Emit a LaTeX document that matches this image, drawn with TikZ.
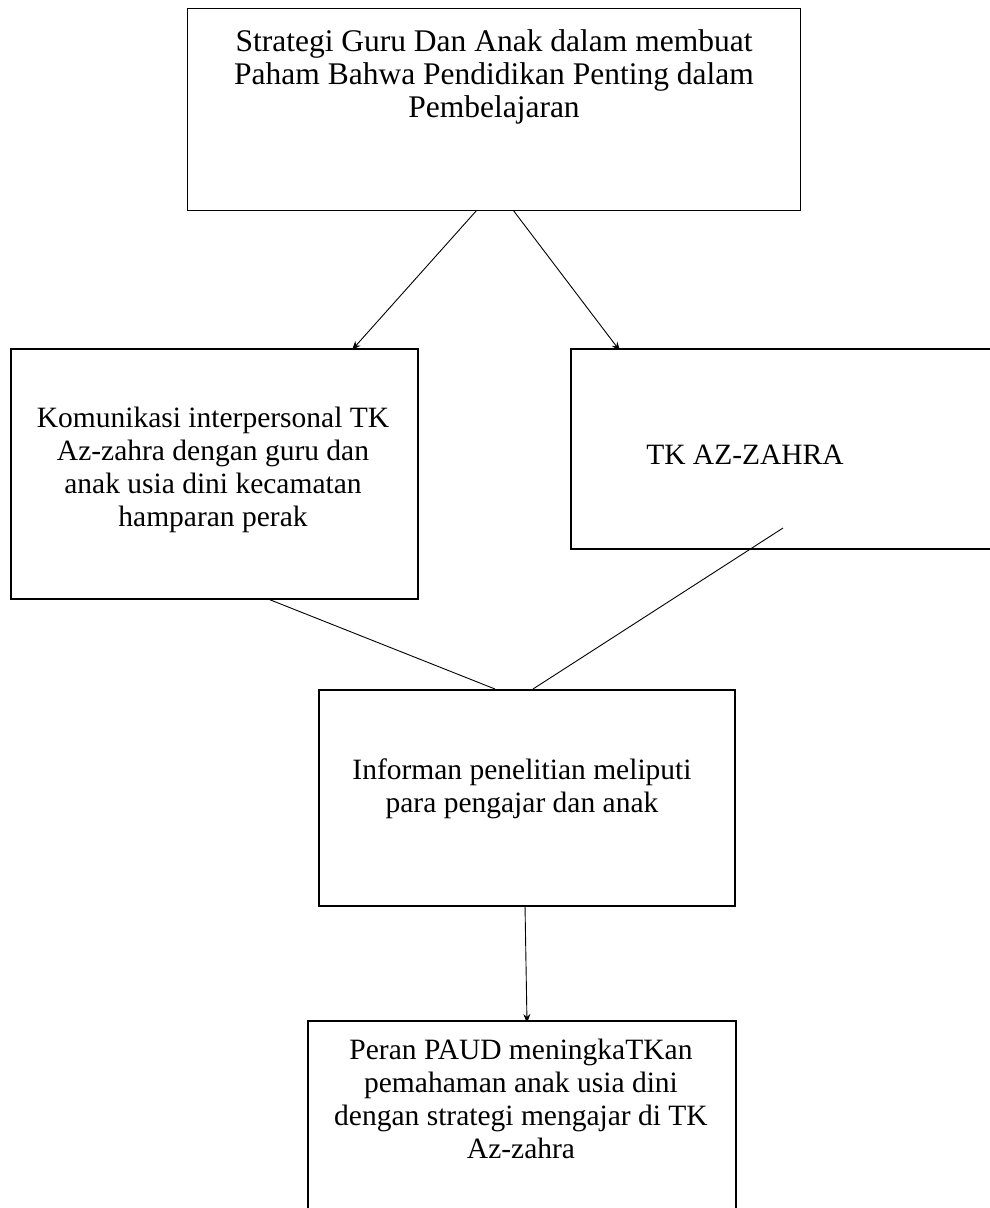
\documentclass[tikz,border=0pt]{standalone}
\usepackage{fontspec}
\setmainfont{Liberation Serif}
\usetikzlibrary{arrows.meta,backgrounds}
\begin{document}
\begin{tikzpicture}[x=1pt,y=-1pt,
  boxthin/.style={draw,line width=1.2pt,fill=white,anchor=north west,inner sep=0pt},
  boxthick/.style={draw,line width=2pt,fill=white,anchor=north west,inner sep=0pt},
  label/.style={align=center,font=\fontsize{29.5}{33}\selectfont,inner sep=0pt},
  toplabel/.style={align=center,font=\fontsize{31.5}{33}\selectfont,inner sep=0pt},
  conn/.style={line width=0.9pt},
  arr/.style={conn,-{Stealth[length=9pt,width=7pt]}}]
\useasboundingbox (0,0) rectangle (989,1208);
\node[boxthin,minimum width=613pt,minimum height=202pt] (top) at (187,8) {};
\node[boxthick,minimum width=407pt,minimum height=250pt] (left) at (10,348) {};
\node[boxthick,minimum width=440pt,minimum height=200pt] (right) at (570,348) {};
\node[boxthick,minimum width=416pt,minimum height=216pt] (mid) at (318,689) {};
\node[boxthick,minimum width=428pt,minimum height=210pt] (bot) at (307,1020) {};
\node[toplabel] (ttop) at (494,77) {Strategi Guru Dan Anak dalam membuat\\Paham Bahwa Pendidikan Penting dalam\\Pembelajaran};
\node[label] (tleft) at (213,470) {Komunikasi interpersonal TK\\Az-zahra dengan guru dan\\anak usia dini kecamatan\\hamparan perak};
\node[label] (tright) at (745,455) {TK AZ-ZAHRA};
\node[label] (tmid) at (522,789) {Informan penelitian meliputi\\para pengajar dan anak};
\node[label] (tbot) at (521,1099) {Peran PAUD meningkaTKan\\pemahaman anak usia dini\\dengan strategi mengajar di TK\\Az-zahra};
\coordinate (a1s) at (477,210);
\coordinate (a1e) at (352,350);
\coordinate (a2s) at (513,210);
\coordinate (a2e) at (620,351);
\coordinate (l1s) at (263,597);
\coordinate (l1e) at (495,689);
\coordinate (l2s) at (783,528);
\coordinate (l2e) at (533,689);
\coordinate (a3s) at (525,905);
\coordinate (a3e) at (527,1023);
\begin{scope}[on background layer]
\draw[arr] (a1s) -- (a1e);
\draw[arr] (a2s) -- (a2e);
\draw[arr] (a3s) -- (a3e);
\draw[conn] (l1s) -- (l1e);
\end{scope}
\draw[conn] (l2s) -- (l2e);
\end{tikzpicture}
\end{document}
